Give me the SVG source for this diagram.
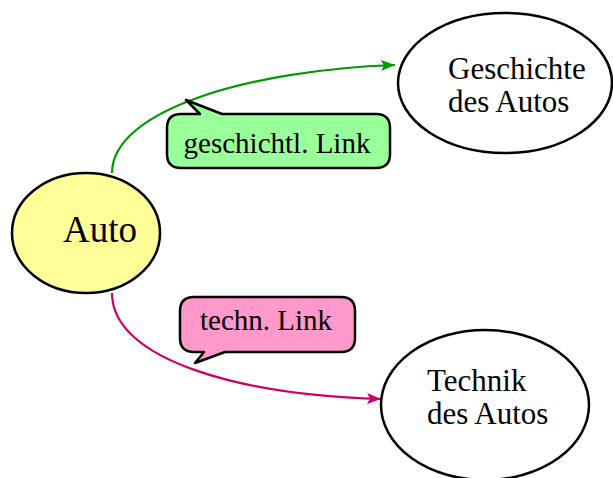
<svg xmlns="http://www.w3.org/2000/svg" width="613" height="478" viewBox="0 0 613 478">
  <style>
    .node { stroke: #000; stroke-width: 2.5; }
    .label { font-family: "Liberation Serif", "Times New Roman", serif; fill: #000; }
    .link { fill: none; stroke-width: 2.2; }
    .callout { stroke: #000; stroke-width: 2.5; stroke-linejoin: round; }
  </style>
  <defs>
    <marker id="arrowGreen" markerUnits="userSpaceOnUse" markerWidth="16" markerHeight="12" refX="14" refY="6" orient="auto">
      <path d="M0,0.5 L14,6 L0,11.5 L3,6 Z" fill="#009900"/>
    </marker>
    <marker id="arrowPink" markerUnits="userSpaceOnUse" markerWidth="16" markerHeight="12" refX="14" refY="6" orient="auto">
      <path d="M0,0.5 L14,6 L0,11.5 L3,6 Z" fill="#cc0066"/>
    </marker>
  </defs>

  <!-- connectors -->
  <g id="connectors">
    <path class="link" stroke="#009900" d="M112,173 C112,110 250,70 395,65" marker-end="url(#arrowGreen)"/>
    <path class="link" stroke="#cc0066" d="M112,293 C112,360 240,395 381,399" marker-end="url(#arrowPink)"/>
  </g>

  <!-- nodes -->
  <g id="auto">
    <ellipse class="node" cx="86" cy="233" rx="74" ry="60" fill="#ffff99"/>
    <text class="label" x="100" y="242" font-size="37" text-anchor="middle">Auto</text>
  </g>

  <g id="geschichte">
    <ellipse class="node" cx="505" cy="83" rx="107" ry="70" fill="#ffffff"/>
    <text class="label" font-size="31">
      <tspan x="448" y="79">Geschichte</tspan>
      <tspan x="448" y="112">des Autos</tspan>
    </text>
  </g>

  <g id="technik">
    <ellipse class="node" cx="485" cy="405" rx="104" ry="75" fill="#ffffff"/>
    <text class="label" font-size="31">
      <tspan x="427" y="391">Technik</tspan>
      <tspan x="427" y="424">des Autos</tspan>
    </text>
  </g>

  <!-- link labels -->
  <g id="label-geschichtl">
    <path class="callout" fill="#99ff99" d="M181,114 L200,114 L186,100 L222,114 L376,114 Q390,114 390,128 L390,154 Q390,168 376,168 L181,168 Q167,168 167,154 L167,128 Q167,114 181,114 Z"/>
    <text class="label" x="277" y="153" font-size="29" text-anchor="middle">geschichtl. Link</text>
  </g>

  <g id="label-techn">
    <path class="callout" fill="#ff99cc" d="M194,297 L341,297 Q355,297 355,311 L355,338 Q355,352 341,352 L225,352 L195,363 L204,352 L194,352 Q180,352 180,338 L180,311 Q180,297 194,297 Z"/>
    <text class="label" x="266" y="330" font-size="29" text-anchor="middle">techn. Link</text>
  </g>
</svg>
